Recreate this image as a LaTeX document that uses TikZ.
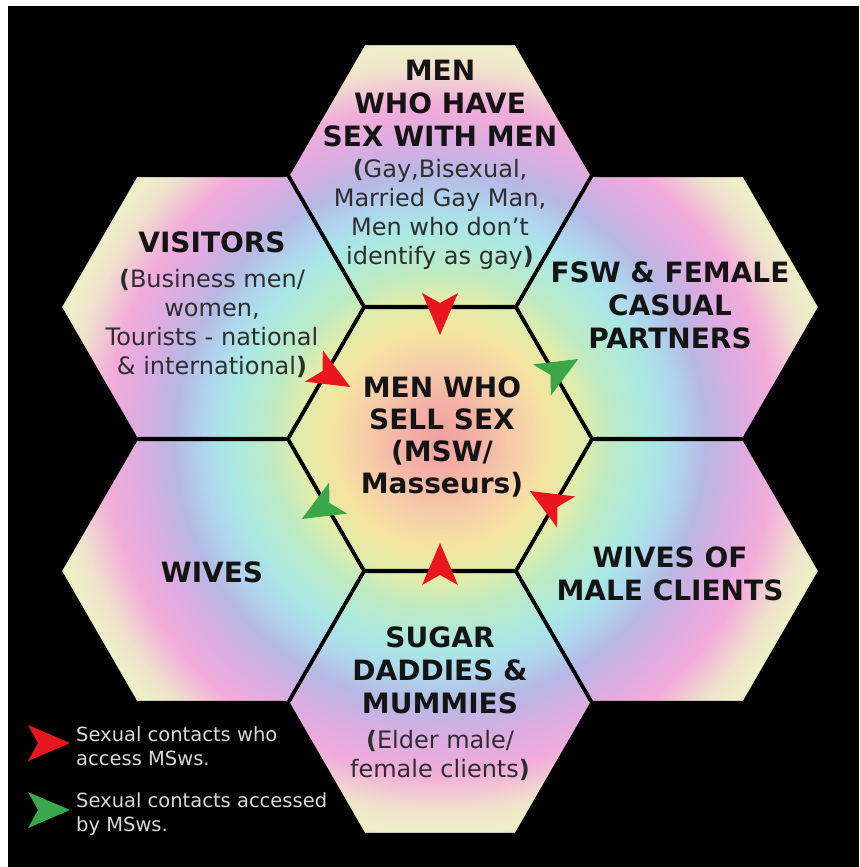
\documentclass[tikz,border=0pt]{standalone}
\usepackage{fontspec}
\setmainfont{DejaVu Sans}
\usetikzlibrary{positioning,calc}

% rainbow colours of the rings
\definecolor{ringA}{RGB}{242,160,160}
\definecolor{ringB}{RGB}{244,178,165}
\definecolor{ringC}{RGB}{246,205,170}
\definecolor{ringD}{RGB}{245,228,160}
\definecolor{ringE}{RGB}{225,236,170}
\definecolor{ringF}{RGB}{190,235,195}
\definecolor{ringG}{RGB}{170,232,228}
\definecolor{ringH}{RGB}{175,215,238}
\definecolor{ringI}{RGB}{182,185,228}
\definecolor{ringJ}{RGB}{220,172,226}
\definecolor{ringK}{RGB}{242,172,218}
\definecolor{ringL}{RGB}{240,225,205}
\definecolor{ringM}{RGB}{238,240,200}
\definecolor{ringN}{RGB}{205,195,225}
\definecolor{accessred}{RGB}{232,22,30}
\definecolor{accessgreen}{RGB}{58,168,74}

\pgfdeclareradialshading{rainbow}{\pgfpoint{0bp}{0bp}}{%
  color(0bp)=(ringA); color(2.2bp)=(ringB); color(4.2bp)=(ringC);
  color(6.1bp)=(ringD); color(7.8bp)=(ringE); color(9.4bp)=(ringF);
  color(11.7bp)=(ringG); color(13.1bp)=(ringH); color(14.7bp)=(ringI);
  color(16.7bp)=(ringJ); color(18.6bp)=(ringK); color(20.6bp)=(ringL);
  color(21.9bp)=(ringM); color(23.9bp)=(ringN); color(50bp)=(ringN)}

\begin{document}
\begin{tikzpicture}[x=1pt,y=-1pt,>=latex]

\tikzset{
    hexline/.style={draw=black, line width=3.5pt, line join=miter},
    title/.style={align=center, text=black!92, inner sep=0pt,
        font=\fontsize{28}{33}\selectfont\bfseries},
    centre/.style={align=center, text=black!92, inner sep=0pt,
        font=\fontsize{28}{32}\selectfont\bfseries},
    sub/.style={align=center, text=black!82, inner sep=0pt,
        font=\fontsize{24}{29}\selectfont},
    keytext/.style={align=left, anchor=west, text=black!15, inner sep=0pt,
        font=\fontsize{19.5}{24}\selectfont},
    tipmark/.pic={\fill (28,0) -- (-14,-18) -- (-4,0) -- (-14,18) -- cycle;}
}

    \useasboundingbox (0,0) rectangle (859,867);
    \fill[white] (0,0) rectangle (859,867);
    \fill[black] (8,6) rectangle (859,867);

    % centres of the honeycomb
    \coordinate (msw) at (440,439);
    \coordinate (msm) at (440,175);
    \coordinate (fsw) at (668,307);
    \coordinate (wmc) at (668,571);
    \coordinate (sug) at (440,703);
    \coordinate (wiv) at (212,571);
    \coordinate (vis) at (212,307);

    % rainbow fill, cut to the cells
    \begin{scope}
        \clip \foreach \c in {msw,msm,fsw,wmc,sug,wiv,vis}
            {(\c) ++(0:152pt) -- ++(120:152pt) -- ++(180:152pt) -- ++(240:152pt)
             -- ++(300:152pt) -- ++(0:152pt) -- cycle};
        \shade[shading=rainbow] (msw) circle (450pt);
    \end{scope}

    % cell borders
    \foreach \c in {msw,msm,fsw,wmc,sug,wiv,vis}
        \draw[hexline] (\c) ++(0:152pt) -- ++(120:152pt) -- ++(180:152pt)
            -- ++(240:152pt) -- ++(300:152pt) -- ++(0:152pt) -- cycle;

    % texts
    \node[title] (msmtitle) at (440,103) {MEN\\WHO HAVE\\SEX WITH MEN};
    \node[sub] (msmsub) at (440,214) {{\bfseries(}Gay,Bisexual,\\Married Gay Man,\\Men who don’t\\identify as gay{\bfseries)}};
    \node[title] (vistitle) at (212,242) {VISITORS};
    \node[sub] (vissub) at (212,323) {{\bfseries(}Business men/\\women,\\Tourists - national\\\& international{\bfseries)}};
    \node[title] (fswtitle) at (670,305) {FSW \& FEMALE\\CASUAL\\PARTNERS};
    \node[centre] (mswtitle) at (442,437) {MEN WHO\\SELL SEX\\(MSW/\\Masseurs)};
    \node[title] (wivtitle) at (212,572) {WIVES};
    \node[title] (wmctitle) at (670,574) {WIVES OF\\MALE CLIENTS};
    \node[title] (sugtitle) at (440,670) {SUGAR\\DADDIES \&\\MUMMIES};
    \node[sub] (sugsub) at (440,755) {{\bfseries(}Elder male/\\female clients{\bfseries)}};

    % contact marks on the inner cell
    \pic[accessred, rotate=-90] at ($(msw)!0.5!(msm)$) {tipmark};
    \pic[accessgreen, rotate=30] at ($(msw)!0.5!(fsw)$) {tipmark};
    \pic[accessred, rotate=150] at ($(msw)!0.5!(wmc)$) {tipmark};
    \pic[accessred, rotate=90] at ($(msw)!0.5!(sug)$) {tipmark};
    \pic[accessgreen, rotate=210] at ($(msw)!0.5!(wiv)$) {tipmark};
    \pic[accessred, rotate=-30] at ($(msw)!0.5!(vis)$) {tipmark};

    % key
    \pic[accessred] at (42,743) {tipmark};
    \pic[accessgreen] at (42,810) {tipmark};
    \node[keytext] (keyin) at (76,746) {Sexual contacts who\\access MSws.};
    \node[keytext] (keyout) at (76,814) {Sexual contacts accessed\\by MSws.};

\end{tikzpicture}
\end{document}
